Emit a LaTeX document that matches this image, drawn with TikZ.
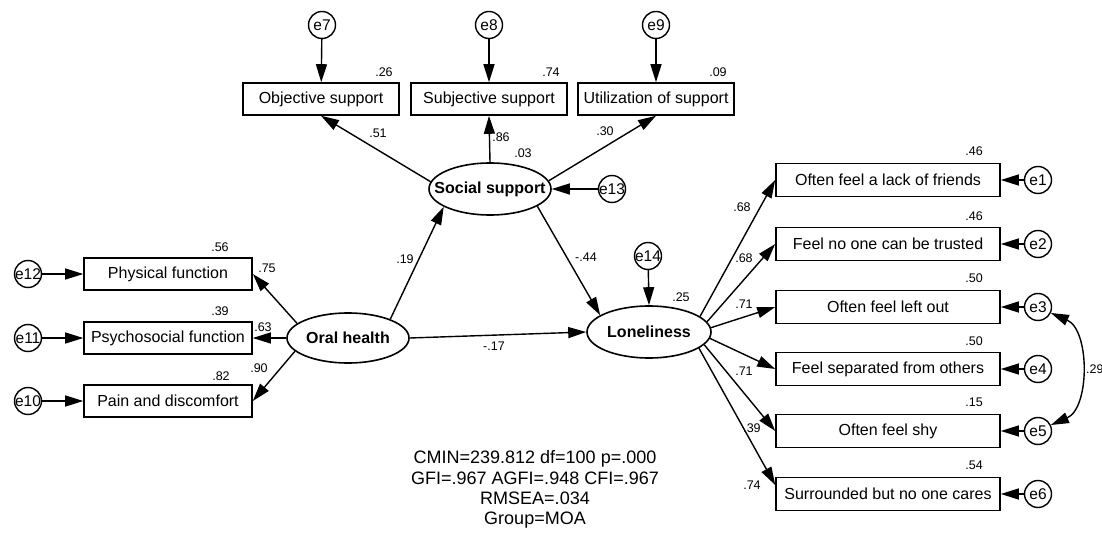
\documentclass[tikz,border=0pt]{standalone}
\usepackage{fontspec}
\setmainfont{Liberation Sans}
\usetikzlibrary{arrows.meta,shapes.geometric}
\begin{document}
\begin{tikzpicture}[x=1pt,y=-1pt,
  obs/.style={draw,line width=1.6pt,inner sep=0pt,minimum height=32pt,font=\fontsize{16}{19}\selectfont},
  lat/.style={draw,ellipse,line width=1.6pt,inner sep=0pt,minimum width=122pt,minimum height=52pt,font=\fontsize{16}{19}\selectfont\bfseries},
  err/.style={draw,circle,line width=1.4pt,inner sep=0pt,minimum size=27pt,font=\fontsize{15.5}{18}\selectfont},
  lab/.style={inner sep=0pt,font=\fontsize{12.5}{14}\selectfont},
  arr/.style={line width=1.4pt,-{Triangle[length=18pt,width=11pt]}},
  dbl/.style={line width=1.4pt,{Triangle[length=18pt,width=11pt]}-{Triangle[length=18pt,width=11pt]}},
  ]
\useasboundingbox (0,0) rectangle (1102,534);
% top
\node[err] (e7) at (322,25) {\makebox[0pt]{e7}};
\node[err] (e8) at (489,25) {\makebox[0pt]{e8}};
\node[err] (e9) at (656,25) {\makebox[0pt]{e9}};
\node[obs,minimum width=156pt] (obj) at (321,99) {Objective support};
\node[obs,minimum width=156pt] (sub) at (489,99) {Subjective support};
\node[obs,minimum width=156pt] (uti) at (656,99) {Utilization of support};
\node[lat] (soc) at (490,189) {\makebox[0pt]{Social support}};
\node[err] (e13) at (612,189) {\makebox[0pt]{e13}};
% left
\node[lat,minimum height=50pt] (oral) at (348,338) {\makebox[0pt]{Oral health}};
\node[obs,minimum width=168pt] (pf) at (168,274) {Physical function};
\node[obs,minimum width=168pt] (ps) at (168,338) {Psychosocial function};
\node[obs,minimum width=168pt] (pd) at (168,401) {Pain and discomfort};
\node[err] (e12) at (28,274) {\makebox[0pt]{e12}};
\node[err] (e11) at (28,338) {\makebox[0pt]{e11}};
\node[err] (e10) at (28,401) {\makebox[0pt]{e10}};
% loneliness
\node[lat,minimum width=124pt] (lon) at (649,332) {\makebox[0pt]{Loneliness}};
\node[err] (e14) at (648,256) {\makebox[0pt]{e14}};
\node[obs,minimum width=224pt,minimum height=33pt] (r1) at (888,180) {Often feel a lack of friends};
\node[obs,minimum width=224pt,minimum height=33pt] (r2) at (888,244) {Feel no one can be trusted};
\node[obs,minimum width=224pt,minimum height=33pt] (r3) at (888,307) {Often feel left out};
\node[obs,minimum width=224pt,minimum height=33pt] (r4) at (888,369) {Feel separated from others};
\node[obs,minimum width=224pt,minimum height=33pt] (r5) at (888,431) {Often feel shy};
\node[obs,minimum width=224pt,minimum height=33pt] (r6) at (888,494) {Surrounded but no one cares};
\node[err] (e1) at (1038,180) {\makebox[0pt]{e1}};
\node[err] (e2) at (1038,244) {\makebox[0pt]{e2}};
\node[err] (e3) at (1038,307) {\makebox[0pt]{e3}};
\node[err] (e4) at (1038,369) {\makebox[0pt]{e4}};
\node[err] (e5) at (1038,431) {\makebox[0pt]{e5}};
\node[err] (e6) at (1038,494) {\makebox[0pt]{e6}};
% fit
\node[font=\fontsize{18}{20.3}\selectfont,align=center,inner sep=0pt] (fit) at (535,489.5)
  {CMIN=239.812 df=100 p=.000\\GFI=.967 AGFI=.948 CFI=.967\\RMSEA=.034\\Group=MOA};
% labels
\node[lab] (l26) at (384,72) {.26};
\node[lab] (l74a) at (551,72) {.74};
\node[lab] (l09) at (718,72) {.09};
\node[lab] (l51) at (378,133) {.51};
\node[lab] (l86) at (501,137) {.86};
\node[lab] (l30) at (605,131) {.30};
\node[lab] (l03) at (523,153) {.03};
\node[lab] (l56) at (220,247) {.56};
\node[lab] (l75) at (267,268) {.75};
\node[lab] (l39a) at (220,311) {.39};
\node[lab] (l63) at (263,327) {.63};
\node[lab] (l82) at (221,376) {.82};
\node[lab] (l90) at (259,368) {.90};
\node[lab] (l19) at (405,259) {.19};
\node[lab] (l44) at (586,257) {-.44};
\node[lab] (l17) at (494,346) {-.17};
\node[lab] (l25) at (681,297) {.25};
\node[lab] (l68a) at (742,207) {.68};
\node[lab] (l68b) at (744,258) {.68};
\node[lab] (l71a) at (744,304) {.71};
\node[lab] (l71b) at (744,371) {.71};
\node[lab] (l39b) at (752,428) {.39};
\node[lab] (l74b) at (752,485) {.74};
\node[lab] (r46a) at (974,151) {.46};
\node[lab] (r46b) at (974,216) {.46};
\node[lab] (r50a) at (974,278) {.50};
\node[lab] (r50b) at (974,341) {.50};
\node[lab] (r15) at (974,402) {.15};
\node[lab] (r54) at (974,465) {.54};
\node[lab,anchor=west] (l29) at (1086,369) {.29};
% connectors
\draw[arr] (e7) -- (obj);
\draw[arr] (e8) -- (sub);
\draw[arr] (e9) -- (uti);
\draw[arr] (soc.173) -- (obj.south);
\draw[arr] (soc.north) -- (sub.south);
\draw[arr] (soc.8) -- (uti.south);
\draw[arr] (e13) -- (soc.east);
\draw[arr] (soc.-20) -- (lon.161);
\draw[arr] (oral.24) -- (soc.201);
\draw[arr] (oral.east) -- (lon.west);
\draw[arr] (oral.164) -- (pf.east);
\draw[arr] (oral.west) -- (ps.east);
\draw[arr] (oral.194) -- (pd.east);
\draw[arr] (e12) -- (pf.west);
\draw[arr] (e11) -- (ps.west);
\draw[arr] (e10) -- (pd.west);
\draw[arr] (e14) -- (lon.north);
\draw[arr] (lon.17) -- (r1.west);
\draw[arr] (lon.10) -- (r2.west);
\draw[arr] (lon.4) -- (r3.west);
\draw[arr] (lon.-6) -- (r4.west);
\draw[arr] (lon.-13) -- (r5.west);
\draw[arr] (lon.-18) -- ([yshift=9pt]r6.west);
\draw[arr] (e1) -- (r1.east);
\draw[arr] (e2) -- (r2.east);
\draw[arr] (e3) -- (r3.east);
\draw[arr] (e4) -- (r4.east);
\draw[arr] (e5) -- (r5.east);
\draw[arr] (e6) -- (r6.east);
\draw[dbl] (e3.-25) .. controls (1090,330) and (1090,408) .. (e5.25);
\end{tikzpicture}
\end{document}
